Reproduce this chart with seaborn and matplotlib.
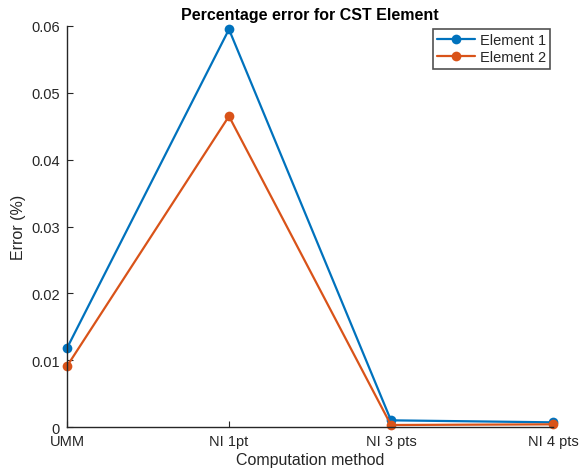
import matplotlib
matplotlib.use("Agg")
import matplotlib.pyplot as plt
import seaborn as sns
import pandas as pd

methods = ["UMM", "NI 1pt", "NI 3 pts", "NI 4 pts"]
element1 = [0.0118, 0.0595, 0.0010, 0.0007]
element2 = [0.0091, 0.0465, 0.0003, 0.0004]
series_names = ["Element 1", "Element 2"]
yticks = [0, 0.01, 0.02, 0.03, 0.04, 0.05, 0.06]
ytick_labels = ["0", "0.01", "0.02", "0.03", "0.04", "0.05", "0.06"]

df = pd.DataFrame({
    "x": list(range(len(methods))) * 2,
    "Error": element1 + element2,
    "Series": [series_names[0]] * len(methods) + [series_names[1]] * len(methods),
})

sns.set_style("white")
plt.rcParams["font.family"] = ["Liberation Sans", "DejaVu Sans"]

fig = plt.figure(figsize=(5.79, 4.77), dpi=100)
ax = fig.add_axes([0.1157, 0.1027, 0.955 - 0.1157, 0.9434 - 0.1027])

palette = {"Element 1": "#0072BD", "Element 2": "#D95319"}
sns.lineplot(data=df, x="x", y="Error", hue="Series", palette=palette,
             marker="o", markersize=7, markeredgewidth=0, linewidth=1.6,
             ax=ax, legend=True)
for ln in ax.lines:
    ln.set_clip_on(False)

ax.set_xlim(0, 3)
ax.set_ylim(0, 0.06)
ax.set_xticks(range(len(methods)))
ax.set_xticklabels(methods)
ax.set_yticks(yticks)
ax.set_yticklabels(ytick_labels)
ax.tick_params(bottom=True, left=True, direction="in", length=4, width=0.8,
               colors="#262626", labelsize=10.5)
ax.tick_params(axis="x", pad=5)
ax.tick_params(axis="y", pad=5)
for s in ["top", "right"]:
    ax.spines[s].set_visible(False)
for s in ["left", "bottom"]:
    ax.spines[s].set_color("#262626")
    ax.spines[s].set_linewidth(1.0)

ax.set_xlabel("Computation method", fontsize=11.5, color="#262626", labelpad=3)
ax.set_ylabel("Error (%)", fontsize=11.5, color="#262626")
ax.set_title("Percentage error for CST Element", fontsize=11.5, fontweight="bold", color="black", pad=5)

leg = ax.legend(loc="upper right", fontsize=10.5, frameon=True, fancybox=False,
                edgecolor="#262626", borderpad=0.3, handlelength=2.6, labelspacing=0.2,
                handletextpad=0.3, borderaxespad=0.2)
leg.get_frame().set_linewidth(1.2)

fig.savefig("out.png", dpi=100)
